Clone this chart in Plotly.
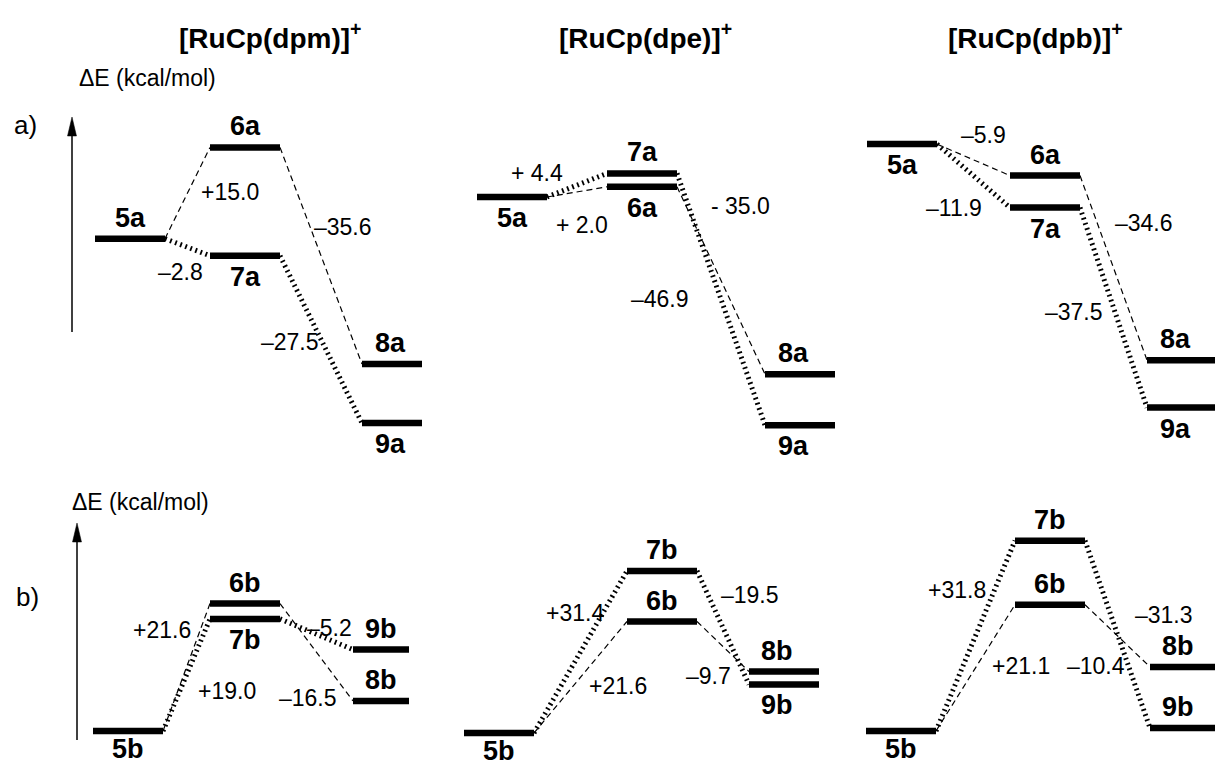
import plotly.graph_objects as go

W, H = 1215, 767
FONT = "Liberation Sans, Arial, sans-serif"

# ---------------- data ----------------
complexes = ["dpm", "dpe", "dpb"]
complex_titles = ["[RuCp(dpm)]", "[RuCp(dpe)]", "[RuCp(dpb)]"]
row_tags = ["a)", "b)"]
energy_axis_label = "ΔE (kcal/mol)"

# reaction steps: from-species, to-species, ΔE (kcal/mol), printed label
a_dpm_from = ["5a", "5a", "6a", "7a"]
a_dpm_to = ["6a", "7a", "8a", "9a"]
a_dpm_dE = [15.0, -2.8, -35.6, -27.5]
a_dpm_lbl = ["+15.0", "–2.8", "–35.6", "–27.5"]

a_dpe_from = ["5a", "5a", "6a", "7a"]
a_dpe_to = ["7a", "6a", "8a", "9a"]
a_dpe_dE = [4.4, 2.0, -35.0, -46.9]
a_dpe_lbl = ["+ 4.4", "+ 2.0", "- 35.0", "–46.9"]

a_dpb_from = ["5a", "5a", "6a", "7a"]
a_dpb_to = ["6a", "7a", "8a", "9a"]
a_dpb_dE = [-5.9, -11.9, -34.6, -37.5]
a_dpb_lbl = ["–5.9", "–11.9", "–34.6", "–37.5"]

b_dpm_from = ["5b", "5b", "6b", "7b"]
b_dpm_to = ["6b", "7b", "8b", "9b"]
b_dpm_dE = [21.6, 19.0, -16.5, -5.2]
b_dpm_lbl = ["+21.6", "+19.0", "–16.5", "–5.2"]

b_dpe_from = ["5b", "5b", "7b", "6b"]
b_dpe_to = ["7b", "6b", "9b", "8b"]
b_dpe_dE = [31.4, 21.6, -19.5, -9.7]
b_dpe_lbl = ["+31.4", "+21.6", "–19.5", "–9.7"]

b_dpb_from = ["5b", "5b", "7b", "6b"]
b_dpb_to = ["7b", "6b", "9b", "8b"]
b_dpb_dE = [31.8, 21.1, -31.3, -10.4]
b_dpb_lbl = ["+31.8", "+21.1", "–31.3", "–10.4"]

# ---------------- layout / style ----------------
# per panel: pixel row of E=0, pixels per kcal/mol, column centres (px)
GEOM = {
    "a_dpm": dict(zero=238.7, scale=6.086, cols=(130, 245, 397)),
    "a_dpe": dict(zero=197.0, scale=5.368, cols=(512, 642, 800)),
    "a_dpb": dict(zero=144.1, scale=5.334, cols=(902, 1045, 1182)),
    "b_dpm": dict(zero=731.0, scale=5.90, cols=(128, 245, 388)),
    "b_dpe": dict(zero=733.0, scale=5.162, cols=(499, 662, 784)),
    "b_dpb": dict(zero=731.0, scale=5.986, cols=(901, 1050, 1185)),
}
ROW_BAND = {"a": (90, 470), "b": (490, 767)}
LEVEL_HALF_PX = 35
MIN_GAP = 2.5  # kcal/mol, display separation of coincident levels
COL_OF = {"5": 0, "6": 1, "7": 1, "8": 2, "9": 2}

# value-label offsets from connector midpoints (dx, dy-down) in px
SHIFTS = {
    "a_dpm": [(42, -1), (-7, 25), (22, -29), (-31, 3)],
    "a_dpe": [(-40, -12), (5, 33), (19, -74), (-61, 0)],
    "a_dpb": [(10, -25), (-20, 32), (30, -45), (-40, 4)],
    "b_dpm": [(-25, -37), (40, 16), (-9, 46), (13, -6)],
    "b_dpe": [(-6, -39), (37, 9), (27, -33), (-15, 29)],
    "b_dpb": [(-19, -46), (45, -2), (46, -19), (-22, 30)],
}
SIDES = {
    "a_dpm": {"5a": "up", "6a": "up", "7a": "down", "8a": "up", "9a": "down"},
    "a_dpe": {"5a": "down", "6a": "down", "7a": "up", "8a": "up", "9a": "down"},
    "a_dpb": {"5a": "down", "6a": "up", "7a": "down", "8a": "up", "9a": "down"},
    "b_dpm": {"5b": "down", "6b": "up", "7b": "down", "8b": "up", "9b": "up"},
    "b_dpe": {"5b": "down", "6b": "up", "7b": "up", "8b": "up", "9b": "down"},
    "b_dpb": {"5b": "down", "6b": "up", "7b": "up", "8b": "up", "9b": "up"},
}
DASHED = dict(color="black", width=1.2, dash="6px,4px")
DOTTED = dict(color="black", width=5, dash="1.8px,3.6px")
LEVEL = dict(color="black", width=6.5)

PANELS = [
    ("a", "dpm", a_dpm_from, a_dpm_to, a_dpm_dE, a_dpm_lbl),
    ("a", "dpe", a_dpe_from, a_dpe_to, a_dpe_dE, a_dpe_lbl),
    ("a", "dpb", a_dpb_from, a_dpb_to, a_dpb_dE, a_dpb_lbl),
    ("b", "dpm", b_dpm_from, b_dpm_to, b_dpm_dE, b_dpm_lbl),
    ("b", "dpe", b_dpe_from, b_dpe_to, b_dpe_dE, b_dpe_lbl),
    ("b", "dpb", b_dpb_from, b_dpb_to, b_dpb_dE, b_dpb_lbl),
]

fig = go.Figure()
annotations = []
shapes = []
axes = {}

for i, (row, cplx, frm, to, dE, lbl) in enumerate(PANELS, start=1):
    key = f"{row}_{cplx}"
    g = GEOM[key]
    r, ts, p = g["cols"]
    u = (p - r) / 2.0
    col_x = [0.0, (ts - r) / u, 2.0]
    hw = LEVEL_HALF_PX / u

    # cumulative energies relative to species 5
    E = {frm[0]: 0.0}
    for f, t, d in zip(frm, to, dE):
        E[t] = E[f] + d
    Ed = dict(E)
    for col in (1, 2):
        names = sorted([n for n in E if COL_OF[n[0]] == col], key=lambda n: (-E[n], n))
        for a, b in zip(names, names[1:]):
            if Ed[a] - Ed[b] < MIN_GAP:
                Ed[b] = Ed[a] - MIN_GAP

    sfx = "" if i == 1 else str(i)
    xref, yref = f"x{sfx}", f"y{sfx}"
    d0 = max(r - 90, 0)
    d1 = min(p + 90, W)
    top, bot = ROW_BAND[row]
    axes[f"xaxis{sfx}"] = dict(domain=[d0 / W, d1 / W], range=[(d0 - r) / u, (d1 - r) / u],
                               visible=False, anchor=yref, fixedrange=True)
    axes[f"yaxis{sfx}"] = dict(domain=[1 - bot / H, 1 - top / H],
                               range=[(g["zero"] - bot) / g["scale"], (g["zero"] - top) / g["scale"]],
                               visible=False, anchor=xref, fixedrange=True)

    # connectors
    for k, (f, t, txt) in enumerate(zip(frm, to, lbl)):
        x0 = col_x[COL_OF[f[0]]] + hw
        x1 = col_x[COL_OF[t[0]]] - hw
        style = DASHED if ("6" in f or "6" in t) else DOTTED
        fig.add_trace(go.Scatter(x=[x0, x1], y=[Ed[f], Ed[t]], mode="lines", line=style,
                                 xaxis=xref, yaxis=yref, hoverinfo="skip", showlegend=False))
        dx, dy = SHIFTS[key][k]
        annotations.append(dict(x=(x0 + x1) / 2, y=(Ed[f] + Ed[t]) / 2, xref=xref, yref=yref,
                                text=txt, showarrow=False, xshift=dx, yshift=-dy,
                                xanchor="center", yanchor="middle",
                                font=dict(family=FONT, size=23, color="black")))

    # energy levels
    for n in E:
        cx = col_x[COL_OF[n[0]]]
        fig.add_trace(go.Scatter(x=[cx - hw, cx + hw], y=[Ed[n], Ed[n]], mode="lines", line=LEVEL,
                                 xaxis=xref, yaxis=yref, hoverinfo="skip", showlegend=False))
        up = SIDES[key][n] == "up"
        ys = 21 if up else (-18 if COL_OF[n[0]] == 0 and row == "b" else -21)
        annotations.append(dict(x=cx, y=Ed[n], xref=xref, yref=yref, text=f"<b>{n}</b>",
                                showarrow=False, yshift=ys,
                                xshift=-7 if COL_OF[n[0]] == 2 else 0,
                                xanchor="center", yanchor="middle",
                                font=dict(family=FONT, size=27, color="black")))

# titles
for cx, t in zip((270, 645, 1035), complex_titles):
    annotations.append(dict(x=cx / W, y=1 - 36 / H, xref="paper", yref="paper",
                            text=f"<b>{t}<sup>+</sup></b>", showarrow=False,
                            xanchor="center", yanchor="middle",
                            font=dict(family=FONT, size=28, color="black")))

# row tags, axis captions and energy arrows
for tag, (tx, ty), (lx, ly), (ax_x, tip, tail) in zip(
        row_tags, [(25, 125), (27, 597)], [(77, 78), (70, 502)], [(72, 117, 332), (77, 523, 740)]):
    annotations.append(dict(x=tx / W, y=1 - ty / H, xref="paper", yref="paper", text=tag,
                            showarrow=False, xanchor="center", yanchor="middle",
                            font=dict(family=FONT, size=26, color="black")))
    annotations.append(dict(x=lx / W, y=1 - ly / H, xref="paper", yref="paper", text=energy_axis_label,
                            showarrow=False, xanchor="left", yanchor="middle",
                            font=dict(family=FONT, size=23, color="black")))
    shapes.append(dict(type="line", xref="paper", yref="paper",
                       x0=ax_x / W, x1=ax_x / W, y0=1 - tail / H, y1=1 - (tip + 12) / H,
                       line=dict(color="black", width=1.5)))
    shapes.append(dict(type="path", xref="paper", yref="paper",
                       path=(f"M {(ax_x - 4.5) / W} {1 - (tip + 19) / H} L {ax_x / W} {1 - tip / H} "
                             f"L {(ax_x + 4.5) / W} {1 - (tip + 19) / H} Z"),
                       fillcolor="black", line=dict(color="black", width=0.5)))

fig.update_layout(width=W, height=H, margin=dict(l=0, r=0, t=0, b=0),
                  paper_bgcolor="white", plot_bgcolor="white",
                  annotations=annotations, shapes=shapes, showlegend=False, **axes)

fig.write_html("out.html", config={"displayModeBar": False},
               post_script="document.body.style.margin='0px';document.body.style.overflow='hidden';")
